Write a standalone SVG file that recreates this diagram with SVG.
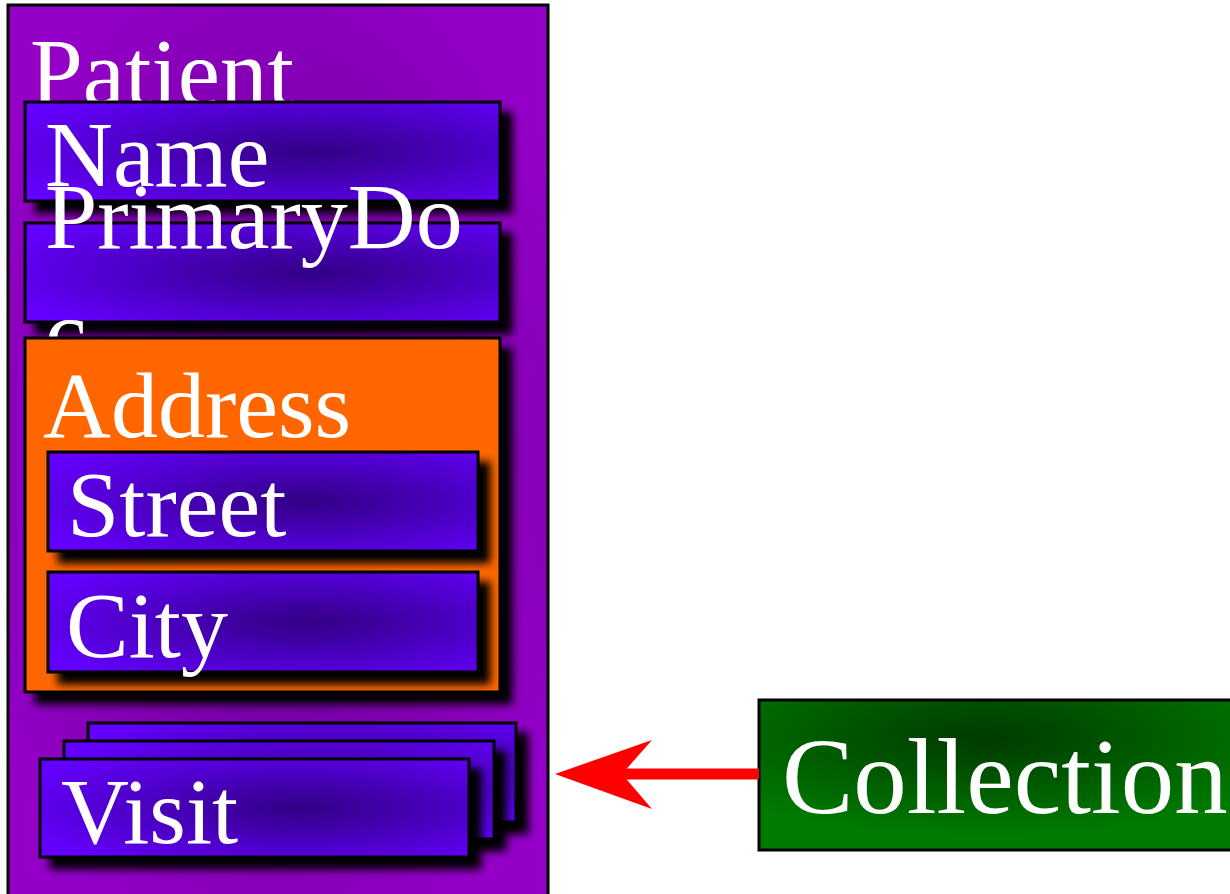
<svg xmlns="http://www.w3.org/2000/svg" width="1230" height="894" viewBox="0 0 1230 894">
<defs>
<radialGradient id="gPurple" cx="0.5" cy="0.5" r="0.6">
<stop offset="0" stop-color="#60008a"/>
<stop offset="1" stop-color="#9400c8"/>
</radialGradient>
<radialGradient id="gBlue" cx="0.6" cy="0.5" r="0.7">
<stop offset="0" stop-color="#320084"/>
<stop offset="1" stop-color="#6400ff"/>
</radialGradient>
<radialGradient id="gGreen" cx="0.45" cy="0.25" r="0.65">
<stop offset="0" stop-color="#003a00"/>
<stop offset="1" stop-color="#007a00"/>
</radialGradient>
<filter id="shadow" x="-10%" y="-20%" width="130%" height="160%">
<feDropShadow dx="11" dy="11" stdDeviation="4" flood-color="#000" flood-opacity="1"/>
</filter>
<style>
.box{stroke:#000;stroke-width:3}
.blue{fill:url(#gBlue)}
.sh{filter:url(#shadow)}
.t{font-family:"Liberation Serif","Times New Roman",serif;fill:#fff;font-size:94px}
</style>
</defs>
<rect width="1230" height="894" fill="#fff"/>
<g id="patient">
<rect class="box" x="8" y="5" width="540" height="900" fill="url(#gPurple)"/>
<text class="t" x="30" y="105" style="font-size:95px">Patient</text>
</g>
<g id="name">
<rect class="box blue sh" x="25" y="102" width="475" height="99"/>
<text class="t" x="45" y="186">Name</text>
</g>
<g id="primarydoc">
<rect class="box blue sh" x="25" y="223" width="475" height="99"/>
<text class="t" x="45" y="248">PrimaryDo</text>
<text class="t" x="45" y="364">c</text>
</g>
<g id="address">
<rect class="box sh" x="25" y="338" width="475" height="354" fill="#ff6600"/>
<text class="t" x="43" y="437">Address</text>
</g>
<g id="street">
<rect class="box blue sh" x="48" y="452" width="430" height="99"/>
<text class="t" x="67" y="536">Street</text>
</g>
<g id="city">
<rect class="box blue sh" x="48" y="572" width="430" height="100"/>
<text class="t" x="66" y="657">City</text>
</g>
<g id="visit">
<rect class="box blue sh" x="88" y="723" width="428" height="99"/>
<rect class="box blue sh" x="64" y="741" width="430" height="98"/>
<rect class="box blue sh" x="40" y="759" width="429" height="98"/>
<text class="t" x="61" y="843">Visit</text>
</g>
<g id="collection">
<rect class="box" x="759" y="700" width="500" height="150" fill="url(#gGreen)"/>
<text class="t" x="782" y="813" style="font-size:107px">Collection</text>
</g>
<g id="connectors">
<line x1="759" y1="774" x2="620" y2="774" stroke="#ff0000" stroke-width="11"/>
<polygon points="555,774 652,740 622,774 652,809" fill="#ff0000"/>
</g>
</svg>
